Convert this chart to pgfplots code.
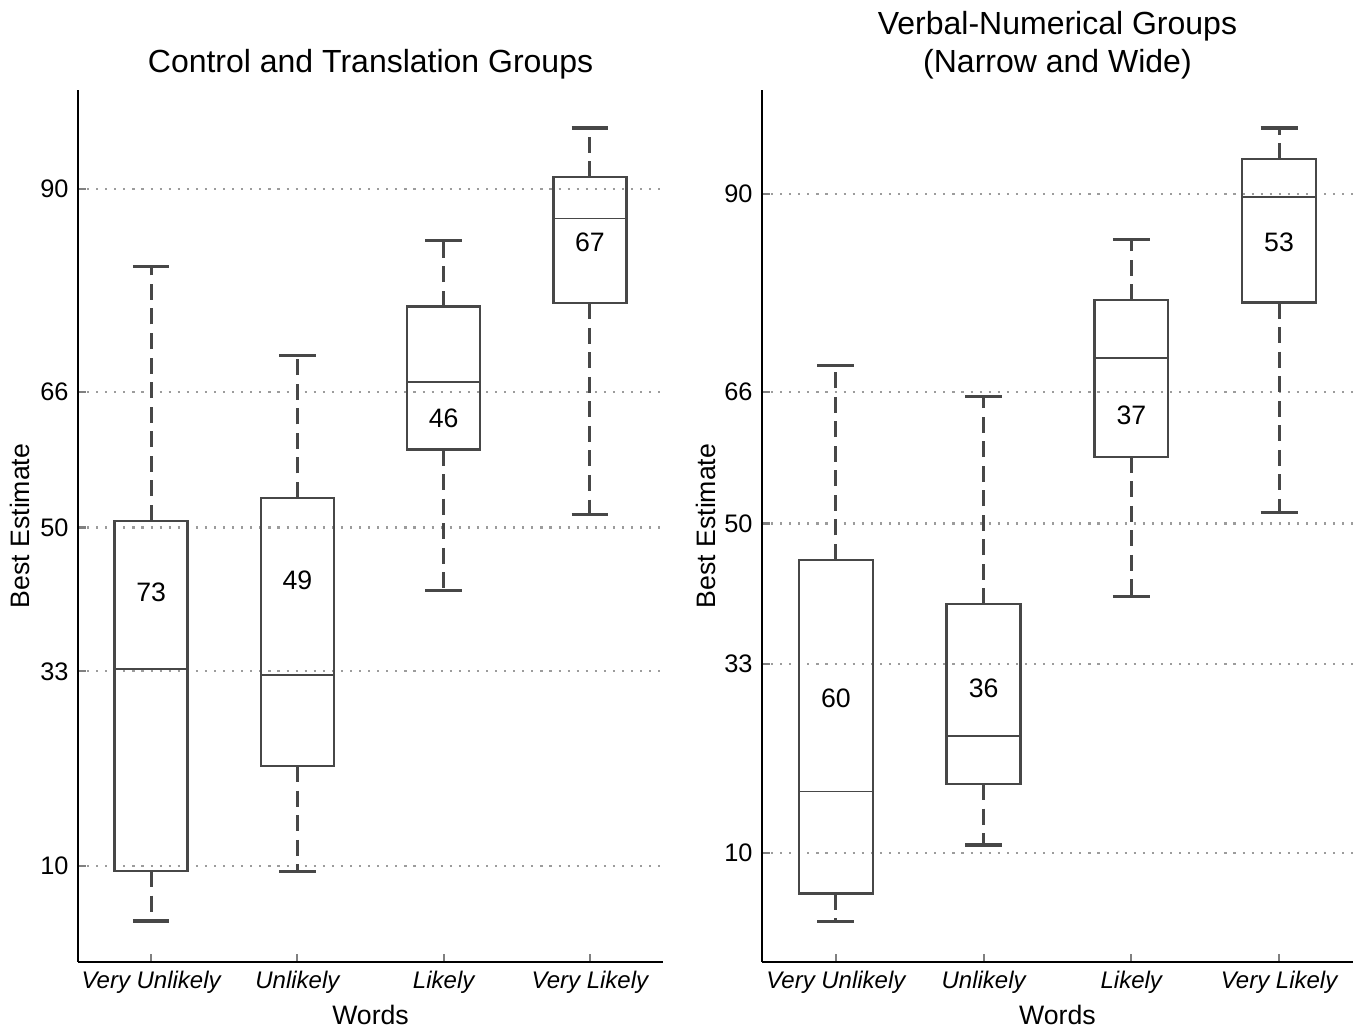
\documentclass[border=0pt]{standalone}
\usepackage{fontspec}
\setmainfont{Liberation Sans}
\usepackage{pgfplots}
\pgfplotsset{compat=1.18}
\usepgfplotslibrary{statistics}

\definecolor{boxgray}{HTML}{474747}
\definecolor{gridgray}{HTML}{9C9C9C}

\tikzset{
  whiskstem/.style={draw=boxgray, line width=1.1pt, dash pattern=on 6pt off 3.2pt},
  whiskcap/.style={draw=boxgray, line width=1.2pt},
}

\pgfplotsset{
  boxplot/draw/lower whisker/.code={%
    \draw[whiskstem] (boxplot box cs:\pgfplotsboxplotvalue{lower quartile},0.5)
      -- (boxplot box cs:\pgfplotsboxplotvalue{lower whisker},0.5);
    \draw[whiskcap] (boxplot whisker cs:\pgfplotsboxplotvalue{lower whisker},0)
      -- (boxplot whisker cs:\pgfplotsboxplotvalue{lower whisker},1);
  },
  boxplot/draw/upper whisker/.code={%
    \draw[whiskstem] (boxplot box cs:\pgfplotsboxplotvalue{upper quartile},0.5)
      -- (boxplot box cs:\pgfplotsboxplotvalue{upper whisker},0.5);
    \draw[whiskcap] (boxplot whisker cs:\pgfplotsboxplotvalue{upper whisker},0)
      -- (boxplot whisker cs:\pgfplotsboxplotvalue{upper whisker},1);
  },
  panel/.style={
    scale only axis, height=327pt,
    xmin=-0.5, xmax=3.5,
    axis x line=bottom, axis y line=left,
    axis line style={-, black, line width=0.8pt},
    xtick={0,1,2,3},
    xticklabels={Very Unlikely, Unlikely, Likely, Very Likely},
    ytick={10,33,50,66,90},
    tick align=inside, major tick length=3pt,
    tick style={gray, line width=0.8pt},
    ymajorgrids,
    major grid style={gridgray, line width=0.8pt, dash pattern=on 0.8pt off 2.6pt},
    x tick label style={font=\fontsize{9}{11}\selectfont\itshape},
    y tick label style={font=\fontsize{9.5}{11}\selectfont},
    /pgf/number format/assume math mode=true,
    label style={font=\fontsize{10}{12}\selectfont},
    title style={font=\fontsize{12}{14.4}\selectfont, align=center, anchor=center, yshift=-6pt},
    xlabel={Words},
    xlabel style={at={(axis description cs:0.5,-0.0608)}, anchor=center},
    ylabel={Best Estimate},
    boxplot/draw direction=y,
    boxplot/box extend=0.5, boxplot/whisker extend=0.25,
    boxplot/every box/.style={draw=boxgray, line width=0.9pt},
    boxplot/every median/.style={draw=boxgray, line width=0.6pt},
    every node near coord/.append style={anchor=center, font=\fontsize{10}{12}\selectfont, black},
  },
  counts/.style={only marks, mark=text, text mark={},
    nodes near coords={\pgfplotspointmeta}, point meta=explicit symbolic},
}

\begin{document}
\begin{tikzpicture}
\useasboundingbox (-29.25pt,-24.75pt) rectangle (481.125pt,360.75pt);

% Control and Translation Groups
\begin{axis}[panel,
  at={(0pt,0pt)}, anchor=south west,
  width=219.4pt,
  ymin=-1.34, ymax=101.7,
  title={Control and Translation Groups},
  title style={at={(axis description cs:0.5,1.0294)}},
  ylabel style={at={(axis description cs:-0.0991,0.5)}, anchor=center},
]
\addplot[boxplot prepared={draw position=0, lower whisker=3.5, lower quartile=9.4,
  median=33.3, upper quartile=50.8, upper whisker=80.8}] coordinates {};
\addplot[boxplot prepared={draw position=1, lower whisker=9.4, lower quartile=21.8,
  median=32.6, upper quartile=53.5, upper whisker=70.3}] coordinates {};
\addplot[boxplot prepared={draw position=2, lower whisker=42.6, lower quartile=59.2,
  median=67.2, upper quartile=76.1, upper whisker=83.9}] coordinates {};
\addplot[boxplot prepared={draw position=3, lower whisker=51.5, lower quartile=76.5,
  median=86.5, upper quartile=91.4, upper whisker=97.2}] coordinates {};
\addplot[counts] coordinates {(0,42.4) [73] (1,43.8) [49] (2,62.9) [46] (3,83.7) [67]};
\end{axis}

% Verbal-Numerical Groups
\begin{axis}[panel,
  at={(256.5pt,0pt)}, anchor=south west,
  width=221.6pt,
  ymin=-3.2, ymax=102.6,
  title={Verbal-Numerical Groups\\(Narrow and Wide)},
  title style={at={(axis description cs:0.5,1.0514)}},
  ylabel style={at={(axis description cs:-0.0948,0.5)}, anchor=center},
]
\addplot[boxplot prepared={draw position=0, lower whisker=1.7, lower quartile=5.1,
  median=17.5, upper quartile=45.6, upper whisker=69.2}] coordinates {};
\addplot[boxplot prepared={draw position=1, lower whisker=11.0, lower quartile=18.4,
  median=24.2, upper quartile=40.2, upper whisker=65.4}] coordinates {};
\addplot[boxplot prepared={draw position=2, lower whisker=41.1, lower quartile=58.1,
  median=70.1, upper quartile=77.1, upper whisker=84.5}] coordinates {};
\addplot[boxplot prepared={draw position=3, lower whisker=51.3, lower quartile=76.8,
  median=89.6, upper quartile=94.2, upper whisker=98.0}] coordinates {};
\addplot[counts] coordinates {(0,28.8) [60] (1,30.0) [36] (2,63.1) [37] (3,84.1) [53]};
\end{axis}
\end{tikzpicture}
\end{document}
